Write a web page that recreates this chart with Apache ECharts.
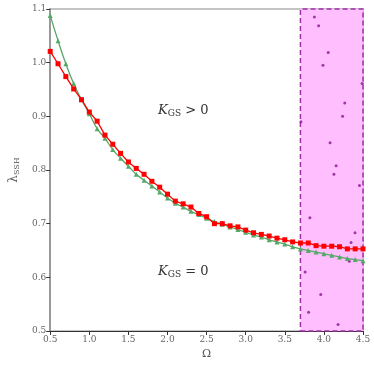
<!DOCTYPE html>
<html>
<head>
<meta charset="utf-8">
<script src="https://cdn.jsdelivr.net/npm/echarts@6/dist/echarts.min.js"></script>
<style>
  html, body { margin: 0; padding: 0; background: #fff; }
  #chart { width: 374px; height: 365px; }
</style>
</head>
<body>
<div id="chart"></div>
<script>
// omega grid and the two curves
var omega = [0.5, 0.6, 0.7, 0.8, 0.9, 1.0, 1.1, 1.2, 1.3, 1.4, 1.5, 1.6, 1.7, 1.8, 1.9, 2.0,
  2.1, 2.2, 2.3, 2.4, 2.5, 2.6, 2.7, 2.8, 2.9, 3.0, 3.1, 3.2, 3.3, 3.4, 3.5, 3.6, 3.7, 3.8,
  3.9, 4.0, 4.1, 4.2, 4.3, 4.4, 4.5];
var redVals = [1.021, 0.998, 0.974, 0.951, 0.931, 0.908, 0.891, 0.865, 0.848, 0.831, 0.815,
  0.803, 0.792, 0.779, 0.768, 0.755, 0.742, 0.737, 0.731, 0.719, 0.713, 0.700, 0.700, 0.696,
  0.694, 0.688, 0.683, 0.680, 0.677, 0.673, 0.670, 0.666, 0.664, 0.664, 0.659, 0.658, 0.658,
  0.657, 0.653, 0.653, 0.653];
var greenVals = [1.088, 1.041, 0.998, 0.961, 0.931, 0.905, 0.877, 0.859, 0.838, 0.822, 0.807,
  0.792, 0.781, 0.770, 0.759, 0.748, 0.738, 0.731, 0.723, 0.717, 0.710, 0.704, 0.699, 0.694,
  0.689, 0.684, 0.679, 0.675, 0.670, 0.666, 0.662, 0.657, 0.653, 0.650, 0.647, 0.644, 0.641,
  0.638, 0.635, 0.633, 0.631];
// scattered points inside the shaded region
var dotX = [3.878, 3.932, 4.055, 3.988, 4.488, 4.267, 4.239, 3.706, 4.079, 4.156, 4.128, 4.455,
  3.821, 4.398, 4.347, 4.325, 3.760, 3.960, 3.804, 4.181];
var dotY = [1.085, 1.069, 1.019, 0.995, 0.961, 0.925, 0.900, 0.890, 0.851, 0.808, 0.792, 0.771,
  0.711, 0.683, 0.665, 0.630, 0.610, 0.568, 0.535, 0.512];
var regionStart = 3.7, regionEnd = 4.5;

function pairs(xs, ys) {
  return xs.map(function (x, i) { return [x, ys[i]]; });
}

var font = 'DejaVu Serif';
var chart = echarts.init(document.getElementById('chart'));
chart.setOption({
  animation: false,
  grid: {
    left: 37, right: 11, top: 9, bottom: 34,
    show: true, borderColor: '#888', borderWidth: 1
  },
  xAxis: {
    type: 'value', min: 0.5, max: 4.5, interval: 0.5,
    name: 'Ω', nameLocation: 'middle', nameGap: 18,
    nameTextStyle: { fontFamily: font, fontSize: 11, color: '#555' },
    axisLine: { lineStyle: { color: '#333', width: 1.2 } },
    axisTick: { length: 4, lineStyle: { color: '#333' } },
    axisLabel: { fontFamily: font, fontSize: 9, color: '#666', margin: 4,
      formatter: function (v) { return v.toFixed(1); } },
    splitLine: { show: false }
  },
  yAxis: {
    type: 'value', min: 0.5, max: 1.1, interval: 0.1,
    name: '{a|λ}{b|SSH}', nameLocation: 'middle', nameGap: 22,
    nameTextStyle: { rich: {
      a: { fontFamily: font, fontSize: 12, color: '#555' },
      b: { fontFamily: font, fontSize: 8, color: '#555', verticalAlign: 'bottom', padding: [6, 0, 0, 0] }
    } },
    axisLine: { lineStyle: { color: '#999', width: 2 } },
    axisTick: { length: 4, lineStyle: { color: '#333' } },
    axisLabel: { fontFamily: font, fontSize: 9, color: '#666', margin: 4,
      formatter: function (v) { return v.toFixed(1); } },
    splitLine: { show: false }
  },
  series: [
    {
      type: 'line', data: [], z: 0, silent: true,
      markArea: {
        silent: true,
        itemStyle: { color: '#ffbfff', borderColor: '#a030a8', borderWidth: 1.5, borderType: [5, 3] },
        data: [[{ coord: [regionStart, 0.5] }, { coord: [regionEnd, 1.1] }]]
      }
    },
    {
      type: 'scatter', data: pairs(dotX, dotY), symbolSize: 3, z: 3,
      itemStyle: { color: '#8a1496' }
    },
    {
      type: 'line', data: pairs(omega, greenVals), smooth: true, z: 4,
      symbol: 'triangle', symbolSize: 5,
      lineStyle: { color: '#55a868', width: 1.3 },
      itemStyle: { color: '#55a868' }
    },
    {
      type: 'line', data: pairs(omega, redVals), z: 5,
      symbol: 'rect', symbolSize: 5,
      lineStyle: { color: '#ff0000', width: 1.3 },
      itemStyle: { color: '#ff0000' }
    }
  ],
  graphic: [
    {
      type: 'text', left: 158, top: 104,
      style: {
        text: '{k|K}{s|GS}{o| > 0}',
        rich: {
          k: { fontFamily: font, fontStyle: 'italic', fontSize: 13, fill: '#333' },
          s: { fontFamily: font, fontSize: 9, fill: '#333', padding: [6, 0, 0, 0] },
          o: { fontFamily: font, fontSize: 13, fill: '#333' }
        }
      }
    },
    {
      type: 'text', left: 158, top: 265,
      style: {
        text: '{k|K}{s|GS}{o| = 0}',
        rich: {
          k: { fontFamily: font, fontStyle: 'italic', fontSize: 13, fill: '#333' },
          s: { fontFamily: font, fontSize: 9, fill: '#333', padding: [6, 0, 0, 0] },
          o: { fontFamily: font, fontSize: 13, fill: '#333' }
        }
      }
    }
  ]
});
</script>
</body>
</html>
